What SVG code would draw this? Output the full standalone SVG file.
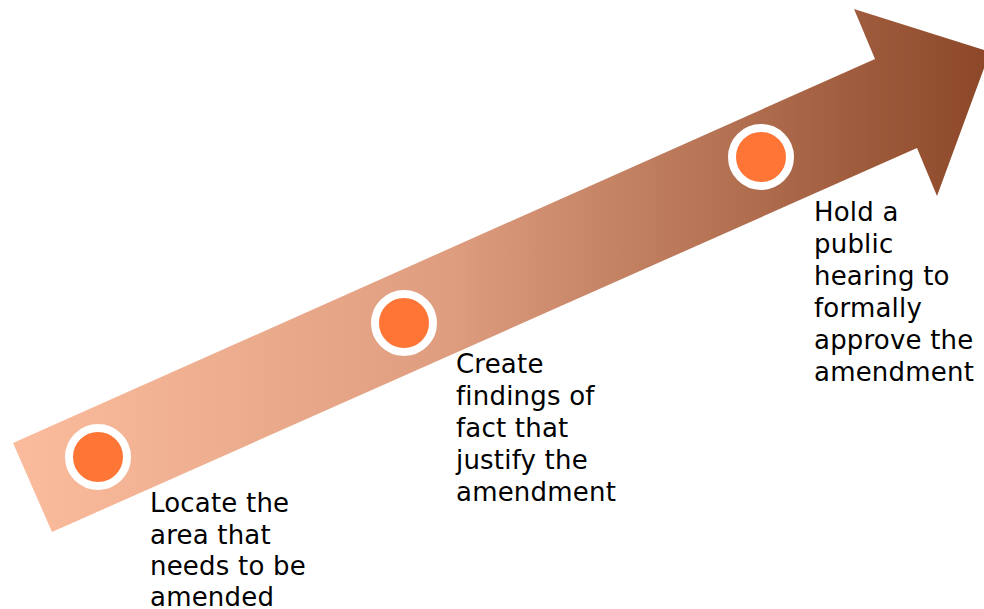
<svg xmlns="http://www.w3.org/2000/svg" width="984" height="609" viewBox="0 0 984 609">
<defs>
<linearGradient id="g" x1="13" y1="0" x2="984" y2="0" gradientUnits="userSpaceOnUse">
<stop offset="0" stop-color="#FBBC9D"/>
<stop offset="0.45" stop-color="#DE9D7F"/>
<stop offset="1" stop-color="#8C4829"/>
</linearGradient>
</defs>
<style>
.dot{fill:#FF7536;stroke:#FFFFFF;stroke-width:8}
.lbl{font-family:"DejaVu Sans",Verdana,sans-serif;font-size:26px;fill:#000;letter-spacing:0.2px}
</style>
<g id="arrow">
<polygon points="13,443 875,59 854,9 990,52 937,196 917,148 52,532" fill="url(#g)"/>
</g>
<g id="step1">
<circle class="dot" cx="98" cy="457" r="29"/>
<text class="lbl"><tspan x="150" y="512">Locate the</tspan><tspan x="150" y="544">area that</tspan><tspan x="150" y="575">needs to be</tspan><tspan x="150" y="606">amended</tspan></text>
</g>
<g id="step2">
<circle class="dot" cx="404" cy="323" r="29"/>
<text class="lbl"><tspan x="456" y="373">Create</tspan><tspan x="456" y="405">findings of</tspan><tspan x="456" y="437">fact that</tspan><tspan x="456" y="469">justify the</tspan><tspan x="456" y="501">amendment</tspan></text>
</g>
<g id="step3">
<circle class="dot" cx="761" cy="157" r="29"/>
<text class="lbl"><tspan x="814" y="221">Hold a</tspan><tspan x="814" y="253">public</tspan><tspan x="814" y="285">hearing to</tspan><tspan x="814" y="317">formally</tspan><tspan x="814" y="349">approve the</tspan><tspan x="814" y="381">amendment</tspan></text>
</g>
</svg>
